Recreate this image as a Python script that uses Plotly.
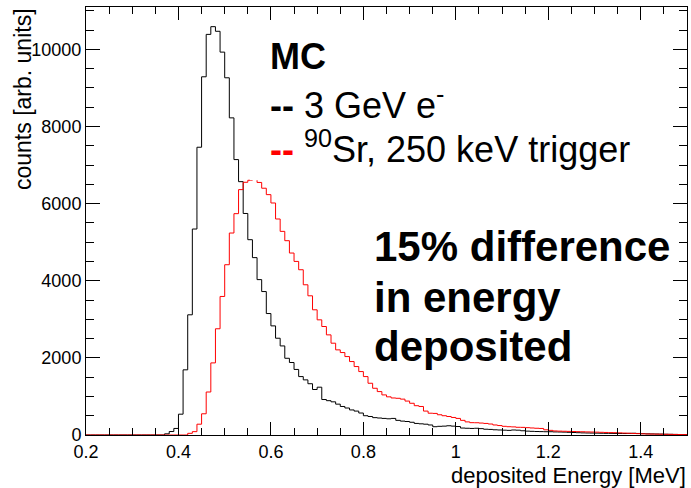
import plotly.graph_objects as go

# Histogram binning: 0.2 .. 1.5 MeV, 0.01 MeV bins (left edges)
bin_lo = 0.20
bin_w = 0.01

# 3 GeV e- (black), bins 0.20 ... 1.49
electron_counts = [
    0, 0, 0, 0, 0, 0, 0, 0, 0, 0, 0, 0, 0, 0, 0, 0, 0,          # 0.20-0.36
    30, 90, 170, 540, 1690, 3117, 5342, 7463, 9290, 10390,      # 0.37-0.46
    10590, 10470, 9930, 9264, 8225, 7143, 6570, 5745, 5065, 4600,  # 0.47-0.56
    4030, 3720, 3150, 2830, 2510, 2310, 1990, 1880, 1700, 1515,    # 0.57-0.66
    1430, 1330, 1180, 1240, 920, 890, 860, 800, 740, 700,          # 0.67-0.76
    650, 620, 570, 500, 480, 450, 440, 430, 420, 430,              # 0.77-0.86
    380, 360, 350, 330, 300, 290, 280, 260, 215, 225,              # 0.87-0.96
    230, 240, 230, 220, 180, 175, 170, 175, 165, 150,              # 0.97-1.06
    145, 135, 130, 125, 120, 130, 125, 110, 100, 95,               # 1.07-1.16
    90, 88, 85, 85, 80, 78, 75, 70, 65, 60,                        # 1.17-1.26
    55, 52, 50, 48, 45, 43, 42, 40, 40, 38,                        # 1.27-1.36
    42, 45, 40, 35, 30, 28, 26, 24, 20, 18,                        # 1.37-1.46
    15, 12, 10,                                                    # 1.47-1.49
]

# 90Sr, 250 keV trigger (red), bins 0.20 ... 1.49
sr90_counts = [
    0, 0, 0, 0, 0, 0, 0, 0, 0, 0, 0, 0, 0, 0, 0, 0, 0, 0, 0, 0, 0, 0,  # 0.20-0.41
    43, 87, 280, 550, 1115, 1870, 2755, 3593, 4416, 5238,          # 0.42-0.51
    5740, 6364, 6554, 6606, 6700, 6550, 6400, 6234, 6017, 5602,    # 0.52-0.61
    5281, 5039, 4719, 4502, 4286, 3896, 3610, 3247, 2987, 2814,    # 0.62-0.71
    2597, 2381, 2208, 2138, 2034, 1905, 1775, 1645, 1515, 1342,    # 0.72-0.81
    1212, 1126, 1040, 990, 960, 952, 930, 880, 823, 760,           # 0.82-0.91
    740, 620, 565, 560, 525, 500, 480, 455, 430, 380,              # 0.92-1.01
    340, 320, 318, 310, 300, 285, 260, 245, 225, 215,              # 1.02-1.11
    210, 200, 198, 190, 182, 175, 170, 135, 120, 105,              # 1.12-1.21
    100, 97, 94, 90, 87, 84, 80, 77, 74, 70,                       # 1.22-1.31
    66, 62, 60, 55, 50, 45, 40, 35, 30, 26,                        # 1.32-1.41
    24, 22, 20, 18, 16, 14, 12, 10,                                # 1.42-1.49
]

x_title = "deposited Energy [MeV]"
y_title = "counts [arb. units]"
legend_header = "MC"
legend_labels = ["3 GeV e<sup>-</sup>", "<sup>90</sup>Sr, 250 keV trigger"]
note_lines = ["15% difference", "in energy", "deposited"]


def step_xy(counts):
    n = len(counts)
    xs = [round(bin_lo + i * bin_w, 4) for i in range(n + 1)]
    ys = list(counts) + [counts[-1]]
    return xs, ys


FONT = "Liberation Sans"

fig = go.Figure()
xe, ye = step_xy(electron_counts)
fig.add_trace(go.Scatter(x=xe, y=ye, mode="lines", line=dict(shape="hv", color="black", width=1),
                         showlegend=False, hoverinfo="skip"))
xs, ys = step_xy(sr90_counts)
fig.add_trace(go.Scatter(x=xs, y=ys, mode="lines", line=dict(shape="hv", color="#ff0000", width=1),
                         showlegend=False, hoverinfo="skip"))

W, H = 691, 488
L, R, T, B = 86, 4, 7, 53
pw, ph = W - L - R, H - T - B


def px(xp):
    return (xp - L) / pw


def py(yp):
    return (H - B - yp) / ph


axis_common = dict(
    showline=True, linecolor="black", linewidth=1, mirror="allticks",
    ticks="inside", tickcolor="black", tickwidth=1,
    showgrid=False, zeroline=False,
    tickfont=dict(family=FONT, size=18, color="black"),
)

fig.update_xaxes(range=[0.2, 1.5], tick0=0.2, dtick=0.2, ticklen=13,
                 minor=dict(dtick=0.05, ticklen=7, ticks="inside", tickcolor="black", showgrid=False),
                 **axis_common)
fig.update_yaxes(range=[0, 11100], tick0=0, dtick=2000, ticklen=14, tickformat="d",
                 minor=dict(dtick=500, ticklen=8, ticks="inside", tickcolor="black", showgrid=False),
                 **axis_common)

annotations = []
# axis titles
annotations.append(dict(text=x_title, xref="paper", yref="paper", x=px(688), y=py(475), xanchor="right",
                        yanchor="middle", showarrow=False, font=dict(family=FONT, size=22, color="black")))
annotations.append(dict(text=y_title, xref="paper", yref="paper", x=px(23), y=py(6), xanchor="center",
                        yanchor="top", textangle=-90, showarrow=False,
                        font=dict(family=FONT, size=23, color="black")))
# legend block
annotations.append(dict(text="<b>" + legend_header + "</b>", xref="paper", yref="paper", x=px(268), y=py(56.5),
                        xanchor="left", yanchor="middle", showarrow=False,
                        font=dict(family=FONT, size=36, color="black")))
legend_colors = ["black", "#ff0000"]
legend_y = [103, 146.5]
for lab, col, yy in zip(legend_labels, legend_colors, legend_y):
    annotations.append(dict(text='<b><span style="color:%s">--</span></b> %s' % (col, lab),
                            xref="paper", yref="paper", x=px(268), y=py(yy), xanchor="left", yanchor="middle",
                            showarrow=False, font=dict(family=FONT, size=36, color="black")))
# big note
note_y = [246.7, 297.3, 346.7]
for line, yy in zip(note_lines, note_y):
    annotations.append(dict(text="<b>" + line + "</b>", xref="paper", yref="paper", x=px(372), y=py(yy),
                            xanchor="left", yanchor="middle", showarrow=False,
                            font=dict(family=FONT, size=42, color="black")))

fig.update_layout(
    width=W, height=H,
    margin=dict(l=L, r=R, t=T, b=B),
    paper_bgcolor="white", plot_bgcolor="white",
    font=dict(family=FONT, color="black"),
    annotations=annotations,
    shapes=[dict(type="rect", xref="paper", yref="paper", x0=px(250), x1=px(668), y0=py(180.2), y1=py(22),
                 fillcolor="white", line=dict(width=0), layer="above")],
)

fig.write_html("out.html")
